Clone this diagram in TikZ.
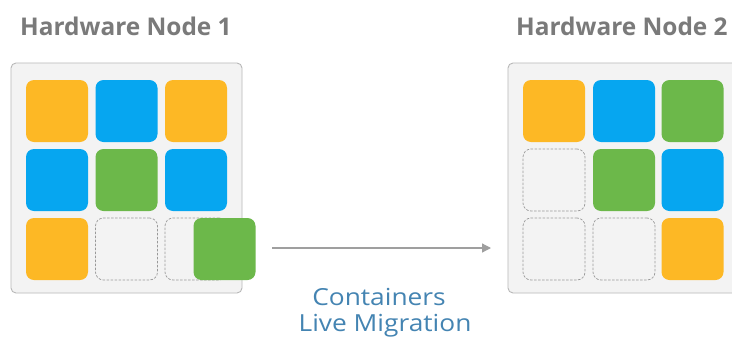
\documentclass[tikz,border=0pt]{standalone}
\usepackage{fontspec}
\setmainfont{Open Sans}
\newfontfamily\labfont[FakeStretch=1.12]{Open Sans}
\usetikzlibrary{arrows.meta}
\definecolor{orng}{HTML}{FDB825}
\definecolor{blu}{HTML}{06A6F0}
\definecolor{grn}{HTML}{6CB84A}
\definecolor{framefill}{HTML}{F3F3F3}
\definecolor{framedraw}{HTML}{B8B8B8}
\definecolor{titlegray}{HTML}{7A7A7A}
\definecolor{migblue}{HTML}{4484B2}
\tikzset{
  frame/.style={draw=framedraw, fill=framefill, line width=0.9pt, rounded corners=5pt},
  tile/.style={minimum width=62pt, minimum height=62pt, inner sep=0pt, rounded corners=8pt},
  emptytile/.style={tile, draw=gray!80, fill=framefill, dashed, dash pattern=on 2.5pt off 1.5pt, line width=0.7pt},
  title/.style={text=titlegray, font=\fontsize{24.4}{28}\selectfont\bfseries, anchor=base west, inner sep=0pt},
  miglabel/.style={text=migblue, font=\labfont\fontsize{23.5}{28}\selectfont, anchor=base, inner sep=0pt},
  arrowline/.style={draw=gray!75, line width=1.3pt, -{Triangle[length=9pt,width=9pt]}}
}
\begin{document}
\begin{tikzpicture}[x=1pt,y=-1pt]
\useasboundingbox[fill=white] (0,0) rectangle (732,346);
% titles
\node[title] (t1) at (20,35) {Hardware Node 1};
\node[title] (t2) at (516,35) {Hardware Node 2};
% frames
\begin{scope}
\clip (0,0) rectangle (732,346);
\draw[frame] (11,63) rectangle (242,293);
\draw[frame] (508,63) rectangle (745,293);
\end{scope}
% node 1 tiles
\node[tile, fill=orng] (a11) at (57,111) {};
\node[tile, fill=blu]  (a12) at (126.5,111) {};
\node[tile, fill=orng] (a13) at (196,111) {};
\node[tile, fill=blu]  (a21) at (57,180) {};
\node[tile, fill=grn]  (a22) at (126.5,180) {};
\node[tile, fill=blu]  (a23) at (196,180) {};
\node[tile, fill=orng] (a31) at (57,249) {};
\node[emptytile]       (a32) at (126.5,249) {};
\node[emptytile]       (a33) at (196,249) {};
\node[tile, fill=grn]  (mig) at (224.5,249) {};
% node 2 tiles
\node[tile, fill=orng] (b11) at (554,111) {};
\node[tile, fill=blu]  (b12) at (624,111) {};
\node[tile, fill=grn]  (b13) at (692.5,111) {};
\node[emptytile]       (b21) at (554,180) {};
\node[tile, fill=grn]  (b22) at (624,180) {};
\node[tile, fill=blu]  (b23) at (692.5,180) {};
\node[emptytile]       (b31) at (554,249) {};
\node[emptytile]       (b32) at (624,249) {};
\node[tile, fill=orng] (b33) at (692.5,249) {};
% arrow
\coordinate (arrS) at (272,248);
\coordinate (arrE) at (491,248);
\draw[arrowline] (arrS) -- (arrE);
% label
\node[miglabel] (lab1) at (379,305) {Containers};
\node[miglabel] (lab2) at (385,331) {Live Migration};
\end{tikzpicture}
\end{document}
